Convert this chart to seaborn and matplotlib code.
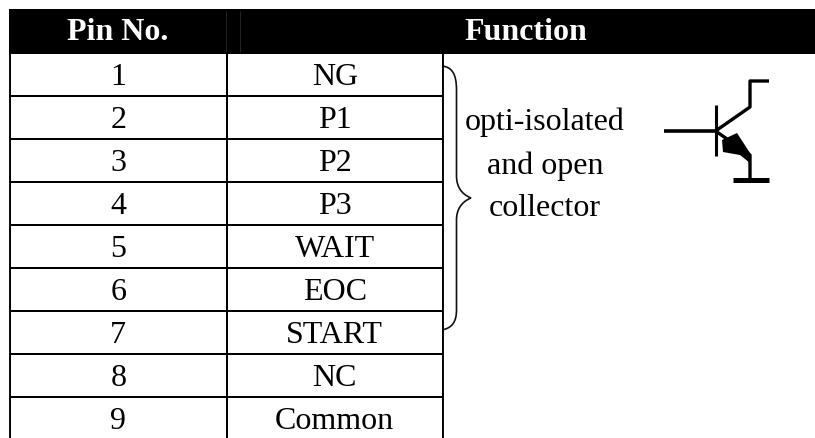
import numpy as np
import matplotlib
matplotlib.use('Agg')
import matplotlib.pyplot as plt
from matplotlib.path import Path
from matplotlib.patches import PathPatch
import seaborn as sns

pin_no = ['1', '2', '3', '4', '5', '6', '7', '8', '9']
functions = ['NG', 'P1', 'P2', 'P3', 'WAIT', 'EOC', 'START', 'NC', 'Common']
headers = ['Pin No.', 'Function']
note_lines = ['opti-isolated', 'and open', 'collector']

W, H = 815, 438
ROW_H = 43

sns.set_theme(style='white')
plt.rcParams['font.family'] = ['Liberation Serif', 'DejaVu Serif']

fig = plt.figure(figsize=(W / 100, H / 100), dpi=100)

# whole canvas in pixel coords, y going down
bg = fig.add_axes([0, 0, 1, 1])
bg.set_xlim(0, W)
bg.set_ylim(H, 0)
bg.axis('off')

# header band
bg.fill_between([9, W], 9, 53.5, color='black', lw=0)
bg.text(118, 33, headers[0], color='white', fontsize=23, fontweight='bold', ha='center', va='center')
bg.text(526, 33, headers[1], color='white', fontsize=23, fontweight='bold', ha='center', va='center')
bg.vlines([226, 240], 11, 52, color='#2a2a2a', lw=0.6)

# table body as a heatmap with a white colormap
cells = np.zeros((len(pin_no), 2))
annot = np.array([pin_no, functions]).T
top = 53
bottom = top + ROW_H * len(pin_no)
left, right = 10, 443
tbl = fig.add_axes([left / W, 1 - bottom / H, (right - left) / W, (bottom - top) / H])
sns.heatmap(cells, annot=annot, fmt='', cmap=['white'], cbar=False, linewidths=1.35, linecolor='black',
            annot_kws={'fontsize': 23, 'color': 'black'}, xticklabels=False, yticklabels=False, ax=tbl)
for side in ['left', 'right']:
    tbl.spines[side].set_visible(True)
    tbl.spines[side].set_color('black')
    tbl.spines[side].set_linewidth(1.35)
for t in tbl.texts:
    t.set_y(t.get_position()[1] + 0.06)

# brace next to the opti-isolated pins
brace = Path([(442, 66), (452, 67), (456.5, 74), (456.5, 90),
              (456.5, 170), (456.5, 176), (456.5, 186), (461, 194), (471, 198),
              (461, 202), (456.5, 210), (456.5, 220), (456.5, 305), (456.5, 310), (456.5, 322), (452, 328), (442, 330)],
             [Path.MOVETO, Path.CURVE4, Path.CURVE4, Path.CURVE4,
              Path.LINETO, Path.LINETO, Path.CURVE4, Path.CURVE4, Path.CURVE4,
              Path.CURVE4, Path.CURVE4, Path.CURVE4, Path.LINETO, Path.LINETO, Path.CURVE4, Path.CURVE4, Path.CURVE4])
bg.add_patch(PathPatch(brace, fc='none', ec='#111111', lw=1.2, zorder=5))

for y, line in zip([122, 166, 209], note_lines):
    bg.text(545, y, line, fontsize=23, color='black', ha='center', va='center')

# transistor symbol
sym = dict(color='black', solid_capstyle='butt', zorder=5)
bg.plot([664, 716], [131, 131], lw=2.6, **sym)
bg.plot([716, 716], [105, 156], lw=2.2, **sym)
bg.plot([717, 750, 750, 769], [130, 107, 81, 81], lw=2.4, **sym)
bg.plot([717, 750, 750], [132, 155, 180], lw=2.4, **sym)
bg.plot([733, 769], [180, 180], lw=3.6, **sym)
bg.fill([722, 737, 750, 750, 740, 723], [140, 133, 153, 163, 155, 152], color='black', lw=0, zorder=5)

fig.savefig('out.png', dpi=100)
